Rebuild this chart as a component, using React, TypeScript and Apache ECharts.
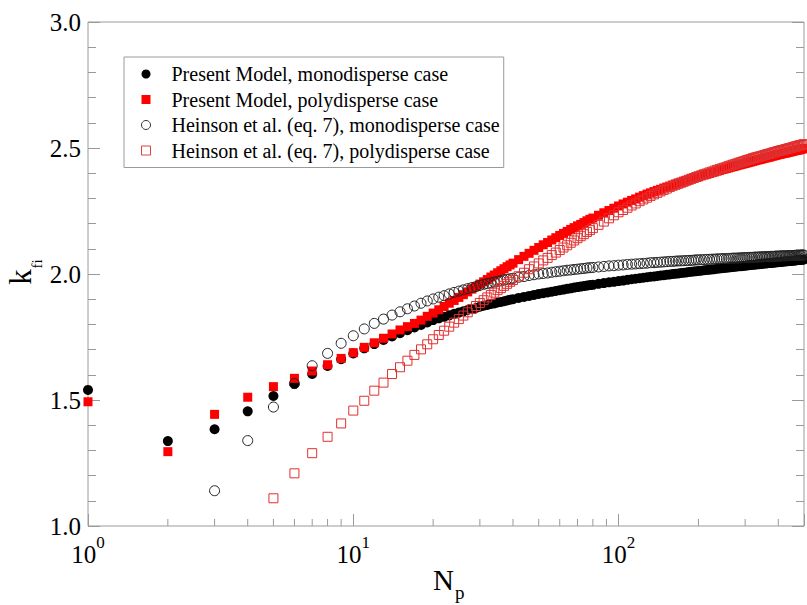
import { useEffect, useRef } from "react";
import * as echarts from "echarts";

// Number of primary particles N_p (x values shared by all series)
const nValues = [
  1, 2, 3, 4, 5, 6, 7, 8, 9, 10, 11, 12, 13, 14, 15, 16, 17, 18, 19, 20,
  21, 22, 23, 24, 25, 26, 27, 28, 29, 30, 31, 32, 33, 34, 35, 36, 37, 38, 39, 40,
  42, 44, 46, 48, 50, 52, 54, 56, 58, 60, 62, 64, 66, 68, 70, 72, 74, 76, 78, 80,
  84, 88, 92, 96, 100, 104, 108, 112, 116, 120, 124, 128, 132, 136, 140, 144, 148, 152, 156, 160,
  164, 168, 172, 176, 180, 184, 188, 192, 196, 200,
  205, 210, 215, 220, 225, 230, 235, 240, 245, 250,
  255, 260, 265, 270, 275, 280, 285, 290, 295, 300,
  305, 310, 315, 320, 325, 330, 335, 340, 345, 350,
  355, 360, 365, 370, 375, 380, 385, 390, 395, 400,
  405, 410, 415, 420, 425, 430, 435, 440, 445, 450,
  455, 460, 465, 470, 475, 480, 485, 490, 495, 500,
];

// Present Model, monodisperse case
const presentMono = [
  1.540, 1.337, 1.384, 1.455, 1.516, 1.563, 1.603, 1.635, 1.662, 1.685, 1.705, 1.722, 1.738, 1.752, 1.765, 1.777, 1.788, 1.798, 1.808, 1.817,
  1.824, 1.830, 1.836, 1.842, 1.847, 1.852, 1.857, 1.861, 1.865, 1.870, 1.874, 1.877, 1.881, 1.883, 1.887, 1.889, 1.892, 1.895, 1.898, 1.900,
  1.905, 1.909, 1.913, 1.917, 1.921, 1.924, 1.927, 1.930, 1.933, 1.936, 1.938, 1.941, 1.943, 1.946, 1.948, 1.950, 1.952, 1.954, 1.956, 1.957,
  1.961, 1.964, 1.967, 1.969, 1.972, 1.974, 1.977, 1.979, 1.981, 1.983, 1.985, 1.987, 1.989, 1.990, 1.992, 1.994, 1.995, 1.997, 1.998, 2.000,
  2.001, 2.002, 2.004, 2.005, 2.006, 2.008, 2.009, 2.010, 2.011, 2.012,
  2.013, 2.015, 2.016, 2.017, 2.018, 2.019, 2.021, 2.022, 2.023, 2.024,
  2.025, 2.026, 2.027, 2.028, 2.029, 2.030, 2.031, 2.031, 2.032, 2.033,
  2.034, 2.035, 2.036, 2.037, 2.037, 2.038, 2.039, 2.039, 2.040, 2.041,
  2.042, 2.042, 2.043, 2.044, 2.044, 2.045, 2.045, 2.046, 2.047, 2.047,
  2.048, 2.048, 2.049, 2.050, 2.050, 2.051, 2.051, 2.052, 2.052, 2.053,
  2.053, 2.054, 2.054, 2.055, 2.056, 2.056, 2.056, 2.057, 2.057, 2.058,
];

// Present Model, polydisperse case
const presentPoly = [
  1.493, 1.295, 1.443, 1.511, 1.553, 1.586, 1.615, 1.640, 1.665, 1.688, 1.709, 1.727, 1.745, 1.762, 1.778, 1.791, 1.804, 1.817, 1.832, 1.845,
  1.858, 1.871, 1.884, 1.895, 1.907, 1.918, 1.929, 1.940, 1.950, 1.960, 1.969, 1.978, 1.988, 1.996, 2.005, 2.013, 2.021, 2.029, 2.036, 2.043,
  2.057, 2.070, 2.082, 2.094, 2.105, 2.116, 2.125, 2.135, 2.144, 2.153, 2.161, 2.169, 2.177, 2.184, 2.191, 2.197, 2.204, 2.211, 2.217, 2.222,
  2.233, 2.243, 2.252, 2.261, 2.270, 2.278, 2.285, 2.292, 2.298, 2.305, 2.311, 2.317, 2.322, 2.327, 2.332, 2.336, 2.341, 2.345, 2.349, 2.353,
  2.357, 2.361, 2.364, 2.368, 2.371, 2.374, 2.377, 2.380, 2.383, 2.386,
  2.390, 2.393, 2.396, 2.399, 2.402, 2.405, 2.408, 2.411, 2.414, 2.416,
  2.419, 2.421, 2.424, 2.426, 2.428, 2.431, 2.433, 2.435, 2.437, 2.439,
  2.441, 2.443, 2.445, 2.447, 2.449, 2.451, 2.453, 2.454, 2.456, 2.458,
  2.460, 2.461, 2.463, 2.464, 2.466, 2.468, 2.469, 2.471, 2.472, 2.474,
  2.475, 2.476, 2.478, 2.479, 2.480, 2.481, 2.483, 2.484, 2.485, 2.486,
  2.488, 2.489, 2.490, 2.491, 2.492, 2.493, 2.495, 2.496, 2.497, 2.498,
];

// Heinson et al. (eq. 7), monodisperse case
const heinsonMono = [
  null, null, 1.140, 1.339, 1.472, 1.565, 1.636, 1.685, 1.725, 1.755, 1.782, 1.804, 1.821, 1.837, 1.850, 1.862, 1.873, 1.884, 1.893, 1.901,
  1.908, 1.914, 1.921, 1.927, 1.932, 1.937, 1.942, 1.946, 1.950, 1.955, 1.959, 1.962, 1.965, 1.968, 1.971, 1.973, 1.976, 1.979, 1.981, 1.983,
  1.987, 1.990, 1.994, 1.997, 2.000, 2.002, 2.004, 2.007, 2.009, 2.011, 2.013, 2.015, 2.016, 2.018, 2.019, 2.021, 2.022, 2.024, 2.025, 2.026,
  2.028, 2.030, 2.032, 2.033, 2.035, 2.036, 2.038, 2.039, 2.040, 2.041, 2.042, 2.043, 2.045, 2.045, 2.046, 2.047, 2.048, 2.049, 2.050, 2.050,
  2.051, 2.052, 2.052, 2.053, 2.053, 2.054, 2.054, 2.055, 2.056, 2.056,
  2.057, 2.057, 2.058, 2.058, 2.059, 2.059, 2.060, 2.060, 2.061, 2.061,
  2.061, 2.062, 2.062, 2.063, 2.063, 2.063, 2.064, 2.064, 2.065, 2.065,
  2.065, 2.066, 2.066, 2.066, 2.067, 2.067, 2.067, 2.068, 2.068, 2.068,
  2.069, 2.069, 2.069, 2.069, 2.070, 2.070, 2.070, 2.071, 2.071, 2.071,
  2.071, 2.072, 2.072, 2.072, 2.072, 2.072, 2.073, 2.073, 2.073, 2.073,
  2.073, 2.074, 2.074, 2.074, 2.074, 2.074, 2.074, 2.075, 2.075, 2.075,
];

// Heinson et al. (eq. 7), polydisperse case
const heinsonPoly = [
  null, null, null, null, 1.110, 1.209, 1.289, 1.354, 1.407, 1.458, 1.497, 1.537, 1.569, 1.603, 1.630, 1.656, 1.679, 1.701, 1.721, 1.741,
  1.758, 1.775, 1.791, 1.807, 1.821, 1.835, 1.848, 1.861, 1.873, 1.885, 1.896, 1.907, 1.917, 1.926, 1.936, 1.944, 1.953, 1.961, 1.969, 1.976,
  1.991, 2.005, 2.019, 2.030, 2.042, 2.054, 2.064, 2.075, 2.085, 2.095, 2.105, 2.114, 2.124, 2.133, 2.142, 2.150, 2.158, 2.167, 2.174, 2.182,
  2.195, 2.208, 2.221, 2.233, 2.245, 2.254, 2.263, 2.272, 2.280, 2.289, 2.296, 2.303, 2.310, 2.316, 2.322, 2.328, 2.334, 2.339, 2.345, 2.350,
  2.354, 2.358, 2.362, 2.366, 2.370, 2.374, 2.378, 2.381, 2.385, 2.388,
  2.392, 2.396, 2.399, 2.403, 2.406, 2.410, 2.413, 2.416, 2.419, 2.422,
  2.425, 2.428, 2.431, 2.434, 2.436, 2.439, 2.442, 2.444, 2.447, 2.449,
  2.452, 2.454, 2.456, 2.459, 2.461, 2.463, 2.465, 2.466, 2.468, 2.470,
  2.472, 2.474, 2.476, 2.477, 2.479, 2.481, 2.483, 2.484, 2.486, 2.488,
  2.489, 2.491, 2.492, 2.493, 2.495, 2.496, 2.498, 2.499, 2.500, 2.502,
  2.503, 2.505, 2.506, 2.507, 2.509, 2.510, 2.511, 2.512, 2.514, 2.515,
];

const seriesNames = [
  "Present Model, monodisperse case",
  "Present Model, polydisperse case",
  "Heinson et al. (eq. 7), monodisperse case",
  "Heinson et al. (eq. 7), polydisperse case",
];

const xMinorTicks = [2, 3, 4, 5, 6, 7, 8, 9, 20, 30, 40, 50, 60, 70, 80, 90, 200, 300, 400];

const SERIF = "Liberation Serif";
const GREY = "#9a9a9a";

function pairs(ys: (number | null)[]) {
  return nValues
    .map((n, i) => [n, ys[i]] as [number, number | null])
    .filter((p) => p[1] !== null && p[1] !== undefined);
}

export default function App() {
  const ref = useRef<HTMLDivElement>(null);

  useEffect(() => {
    const chart = echarts.init(ref.current!, null, { renderer: "svg" });

    const yAxisBase = {
      type: "value",
      min: 1,
      max: 3,
      interval: 0.5,
      axisLine: { show: false },
      splitLine: { show: false },
      axisTick: { inside: true, length: 12, lineStyle: { color: GREY } },
      minorTick: { show: true, splitNumber: 5, length: 8, lineStyle: { color: GREY } },
      minorSplitLine: { show: false },
    };

    chart.setOption({
      animation: false,
      backgroundColor: "#ffffff",
      textStyle: { fontFamily: SERIF },
      grid: {
        left: 88,
        top: 22,
        width: 722,
        height: 504,
        show: true,
        borderColor: GREY,
        borderWidth: 1,
        backgroundColor: "transparent",
      },
      xAxis: {
        type: "log",
        logBase: 10,
        min: 1,
        max: 500,
        axisLine: { show: false },
        splitLine: { show: false },
        axisTick: { inside: true, length: 12, lineStyle: { color: GREY } },
        axisLabel: {
          margin: 8,
          formatter: (v: number) => {
            const e = Math.log10(v);
            if (Math.abs(e - Math.round(e)) > 1e-6) return "";
            return `{b|10}{s|${Math.round(e)}}`;
          },
          rich: {
            b: { fontSize: 25, lineHeight: 40, fontFamily: SERIF, color: "#000" },
            s: { fontSize: 17, lineHeight: 18, verticalAlign: "top", fontFamily: SERIF, color: "#000" },
          },
        },
      },
      yAxis: [
        {
          ...yAxisBase,
          position: "left",
          axisLabel: {
            margin: 7,
            fontSize: 25,
            fontFamily: SERIF,
            color: "#000",
            formatter: (v: number) => v.toFixed(1),
          },
        },
        {
          ...yAxisBase,
          position: "right",
          axisLabel: { show: false },
        },
      ],
      legend: {
        orient: "vertical",
        left: 124,
        top: 57,
        padding: [7, 4, 7, 17],
        itemWidth: 9,
        itemHeight: 9,
        itemGap: 5.5,
        backgroundColor: "#ffffff",
        borderColor: GREY,
        borderWidth: 1,
        selectedMode: false,
        textStyle: {
          fontFamily: SERIF,
          fontSize: 20,
          lineHeight: 20,
          color: "#000",
          padding: [0, 0, 0, 16],
        },
        data: [
          { name: seriesNames[0], icon: "circle", itemStyle: { color: "#000", opacity: 1 } },
          { name: seriesNames[1], icon: "rect", itemStyle: { color: "#ff0000", opacity: 1 } },
          {
            name: seriesNames[2],
            icon: "circle",
            itemStyle: { color: "#ffffff", borderColor: "#333", borderWidth: 1, opacity: 1 },
          },
          {
            name: seriesNames[3],
            icon: "rect",
            itemStyle: { color: "#ffffff", borderColor: "#e04040", borderWidth: 1, opacity: 1 },
          },
        ],
      },
      graphic: [
        {
          type: "text",
          x: 433,
          y: 580,
          style: { text: "N", fontSize: 29, fontFamily: SERIF, fill: "#000", align: "left", verticalAlign: "middle" },
        },
        {
          type: "text",
          x: 455,
          y: 592,
          style: { text: "p", fontSize: 19, fontFamily: SERIF, fill: "#000", align: "left", verticalAlign: "middle" },
        },
        {
          type: "text",
          x: 20,
          y: 277,
          rotation: Math.PI / 2,
          style: { text: "k", fontSize: 31, fontFamily: SERIF, fill: "#000", align: "center", verticalAlign: "middle" },
        },
        {
          type: "text",
          x: 37,
          y: 264,
          rotation: Math.PI / 2,
          style: { text: "fi", fontSize: 15, fontFamily: SERIF, fill: "#000", align: "center", verticalAlign: "middle" },
        },
      ],
      series: [
        {
          name: seriesNames[0],
          type: "scatter",
          symbol: "circle",
          symbolSize: 10,
          itemStyle: { color: "#000000", opacity: 1 },
          emphasis: { disabled: true },
          data: pairs(presentMono),
        },
        {
          name: seriesNames[1],
          type: "scatter",
          symbol: "rect",
          symbolSize: 9,
          itemStyle: { color: "#ff0000", opacity: 1 },
          emphasis: { disabled: true },
          data: pairs(presentPoly),
        },
        {
          name: seriesNames[2],
          type: "scatter",
          symbol: "circle",
          symbolSize: 10,
          itemStyle: { color: "rgba(0,0,0,0)", borderColor: "#222", borderWidth: 1, opacity: 1 },
          emphasis: { disabled: true },
          data: pairs(heinsonMono),
        },
        {
          name: seriesNames[3],
          type: "scatter",
          symbol: "rect",
          symbolSize: 9,
          itemStyle: { color: "rgba(0,0,0,0)", borderColor: "#e03030", borderWidth: 1, opacity: 1 },
          emphasis: { disabled: true },
          data: pairs(heinsonPoly),
        },
        {
          type: "custom",
          silent: true,
          clip: false,
          data: xMinorTicks.map((v) => [v, 1]),
          renderItem: (_params: any, api: any) => {
            const p = api.coord([api.value(0), api.value(1)]);
            return {
              type: "line",
              shape: { x1: p[0], y1: p[1], x2: p[0], y2: p[1] - 7 },
              style: { stroke: GREY, lineWidth: 1 },
            };
          },
        },
      ],
    });

    return () => chart.dispose();
  }, []);

  return (
    <div
      ref={ref}
      style={{ position: "fixed", left: 0, top: 0, width: 807, height: 605 }}
    />
  );
}
